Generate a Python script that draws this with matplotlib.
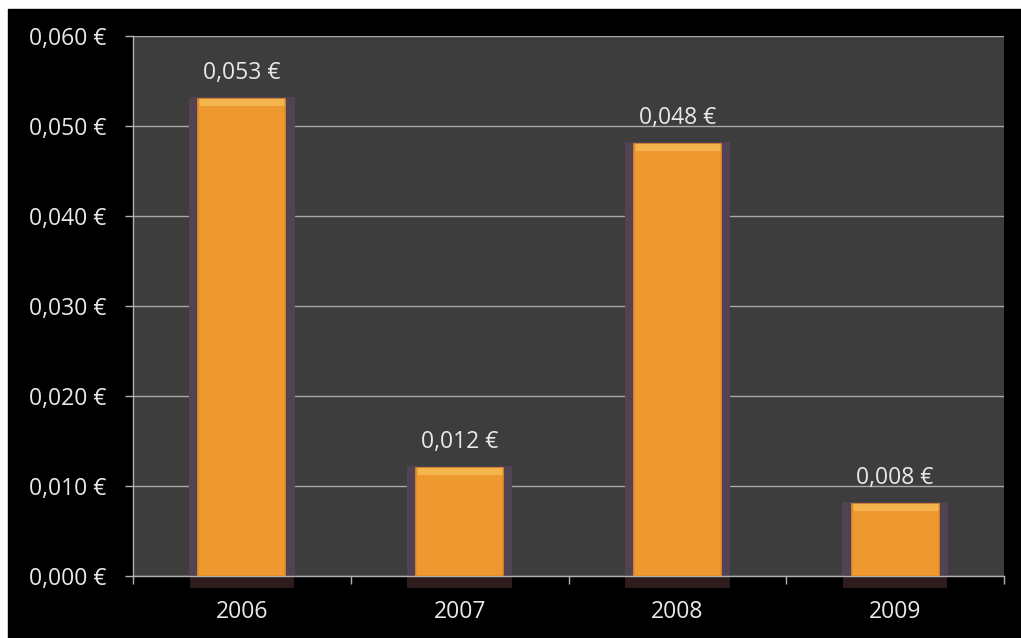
import numpy as np
import matplotlib.pyplot as plt
from matplotlib.patches import Rectangle
from matplotlib.ticker import FixedLocator, FuncFormatter

years = ['2006', '2007', '2008', '2009']
values = [0.053, 0.012, 0.048, 0.008]
y_ticks = [0.0, 0.01, 0.02, 0.03, 0.04, 0.05, 0.06]

plt.rcParams['font.family'] = ['Open Sans', 'DejaVu Sans']

def euro(v, pos=None):
    return ('%.3f €' % v).replace('.', ',')

fig = plt.figure(figsize=(10.21, 6.38), dpi=100, facecolor='white')
# black card behind the chart, white strip on top/left
fig.patches.append(Rectangle((8 / 1021, 0), 1, (638 - 9) / 638,
                             transform=fig.transFigure, color='black', zorder=-10))

ax = fig.add_axes([133 / 1021, 62 / 638, 871 / 1021, 540 / 638])
ax.set_facecolor('#3d3d3d')

x = np.arange(len(years))
ax.set_xlim(-0.5, len(years) - 0.5)
ax.set_ylim(0, 0.06)

# grid
for t in y_ticks:
    ax.axhline(t, color='#a8a8a8', lw=1.0, zorder=1)

# purple frame behind bars + reflection below axis
ax.bar(x, values, width=0.465, color='#524352', edgecolor='#524352', lw=3, zorder=2)
ax.bar(x, [-0.0013] * len(x), width=0.48, color='#2e1c1c', clip_on=False, zorder=2)

# orange bars with light bevel on top
ax.bar(x, values, width=0.40, color='#ee9830', edgecolor='#e48d28', lw=1.2, zorder=3)
for xi, v in zip(x, values):
    ax.plot([xi - 0.195, xi + 0.195], [v - 0.00035, v - 0.00035], color='#f4b44e',
            lw=5, solid_capstyle='butt', zorder=4)
    ax.annotate(euro(v), (xi, v), xytext=(0, 10), textcoords='offset points',
                ha='center', va='bottom', color='#e8e8e8', fontsize=16.5, zorder=5)

for s in ['top', 'right']:
    ax.spines[s].set_visible(False)
for s in ['left', 'bottom']:
    ax.spines[s].set_color('#b0b0b0')
    ax.spines[s].set_linewidth(1.0)

ax.yaxis.set_major_locator(FixedLocator(y_ticks))
ax.yaxis.set_major_formatter(FuncFormatter(euro))
ax.tick_params(axis='y', colors='#b0b0b0', labelcolor='#e8e8e8', labelsize=16.5,
               length=6, width=1, pad=13)

ax.set_xticks(x)
ax.set_xticklabels(years)
ax.set_xticks(np.arange(-0.5, len(years)), minor=True)
ax.tick_params(axis='x', which='major', length=0, labelcolor='#e8e8e8',
               labelsize=16.5, pad=17)
ax.tick_params(axis='x', which='minor', length=6, width=1, colors='#b0b0b0')

fig.savefig('out.png', dpi=100, facecolor='white')
